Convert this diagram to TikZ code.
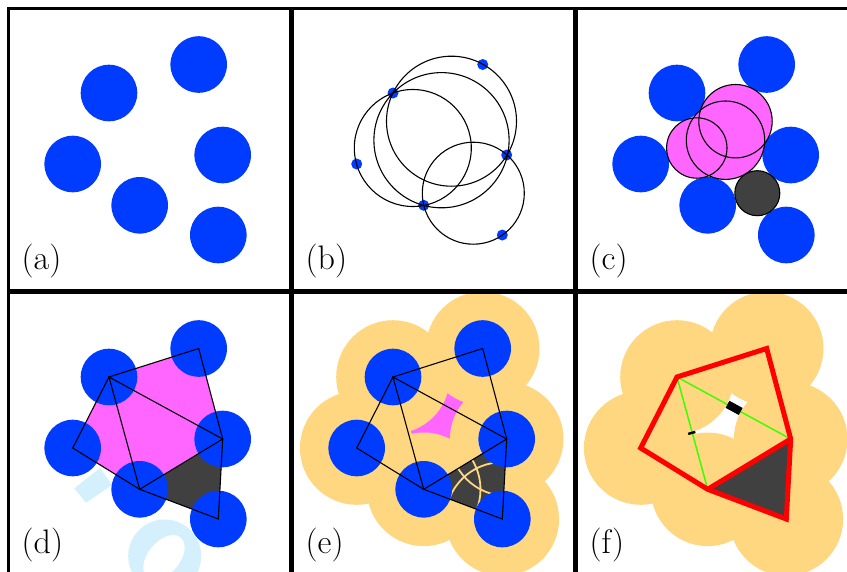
\documentclass[tikz,border=0pt]{standalone}
\definecolor{discblue}{RGB}{0,60,255}
\definecolor{pinkfill}{RGB}{255,102,255}
\definecolor{darkfill}{RGB}{64,64,64}
\definecolor{halo}{RGB}{255,215,128}
\definecolor{wmark}{RGB}{213,240,253}
\definecolor{edgegreen}{RGB}{60,255,0}
\newcommand{\ptsdef}{%
  \coordinate (A) at (109,93);
  \coordinate (B) at (198.7,64.5);
  \coordinate (C) at (222.7,155);
  \coordinate (D) at (218.3,235);
  \coordinate (E) at (139.7,205.3);
  \coordinate (F) at (72.7,164);
}
\newcommand{\discs}[2]{%
  \foreach \p in {A,B,C,D,E,F} \fill[#1] (\p) circle[radius=#2];
}
\newcommand{\triang}{%
  \draw[thinline] (A) -- (B) -- (C) -- (D) -- (E) -- (F) -- cycle;
  \draw[thinline] (A) -- (C) -- (E) -- cycle;
}
\tikzset{
  thinline/.style={black,line width=1.1pt,line join=miter},
  frameline/.style={black,line width=3.2pt},
  tag/.style={anchor=base west,inner sep=0pt,font=\fontsize{34}{40}\selectfont},
  redline/.style={red,line width=5pt,line join=miter}
}
\begin{document}
\begin{tikzpicture}[x=1pt,y=-1pt]
\useasboundingbox (0,0) rectangle (847,571);
\clip (0,0) rectangle (847,571);
\fill[white] (0,0) rectangle (847,571);
% (a)
\begin{scope}
  \ptsdef
  \discs{discblue}{28.3}
  \node[tag] (la) at (21.5,269) {(a)};
\end{scope}
% (b)
\begin{scope}[shift={(284,0)}]
  \ptsdef
  \discs{discblue}{5.5}
  \draw[thinline] (128.8,148) circle[radius=58.5];
  \draw[thinline] (157.5,140.2) circle[radius=67.6];
  \draw[thinline] (167.5,121.2) circle[radius=65];
  \draw[thinline] (189.3,193.2) circle[radius=51];
  \node[tag] (lb) at (21.5,269) {(b)};
\end{scope}
% (c)
\begin{scope}[shift={(568,0)}]
  \ptsdef
  \discs{discblue}{28.3}
  \fill[pinkfill] (128.8,148) circle[radius=30.2];
  \fill[pinkfill] (157.5,140.2) circle[radius=39.2];
  \fill[pinkfill] (167.5,121.2) circle[radius=36.7];
  \draw[thinline] (128.8,148) circle[radius=30.2];
  \draw[thinline] (157.5,140.2) circle[radius=39.2];
  \draw[thinline] (167.5,121.2) circle[radius=36.7];
  \draw[thinline,fill=darkfill] (189.3,193.2) circle[radius=22.5];
  \node[tag] (lc) at (21.5,269) {(c)};
\end{scope}
% (d)
\begin{scope}[shift={(0,284)}]
  \ptsdef
  \fill[wmark] (74.3,204.3) -- (86,218.7) -- (112,201) -- (100,184) -- cycle;
  \fill[wmark,even odd rule] (164.7,272) circle[radius=36.5]
     (164,273.4) [rotate around={50:(164,273.4)}] ellipse[x radius=26,y radius=16];
  \fill[pinkfill] (A) -- (B) -- (C) -- (E) -- (F) -- cycle;
  \fill[darkfill] (C) -- (D) -- (E) -- cycle;
  \discs{discblue}{28.3}
  \triang
  \node[tag] (ld) at (21.5,269) {(d)};
\end{scope}
% (e)
\begin{scope}[shift={(284,284)}]
  \ptsdef
  \fill[pinkfill] (A) -- (B) -- (C) -- (E) -- (F) -- cycle;
  \discs{halo}{56.8}
  \begin{scope}
    \clip (C) -- (D) -- (E) -- cycle;
    \fill[darkfill] (C) -- (D) -- (E) -- cycle;
    \foreach \p in {C,D,E} \draw[halo,line width=1.8pt] (\p) circle[radius=56.8];
  \end{scope}
  \discs{discblue}{28.3}
  \triang
  \node[tag] (le) at (21.5,269) {(e)};
\end{scope}
% (f)
\begin{scope}[shift={(568,284)}]
  \ptsdef
  \discs{halo}{56.8}
  \fill[darkfill] (C) -- (D) -- (E) -- cycle;
  \draw[edgegreen,line width=1.5pt] (C) -- (A) -- (E);
  \draw[black,line width=8pt] (159.5,120.3) -- (172.7,127.5);
  \draw[black,line width=2.4pt] (120.2,149.9) -- (127.3,147.9);
  \draw[redline] (A) -- (B) -- (C) -- (D) -- (E) -- (F) -- cycle;
  \draw[redline] (C) -- (E);
  \node[tag] (lf) at (21.5,269) {(f)};
\end{scope}
% frames
\foreach \x in {0,284,568} \foreach \y in {0,284}
  \draw[frameline] (8.2+\x,8.2+\y) rectangle (292+\x,292+\y);
\draw[frameline] (291,8) -- (291,575);
\draw[frameline] (575,8) -- (575,575);
\draw[frameline] (8,291) -- (847,291);
\end{tikzpicture}
\end{document}
